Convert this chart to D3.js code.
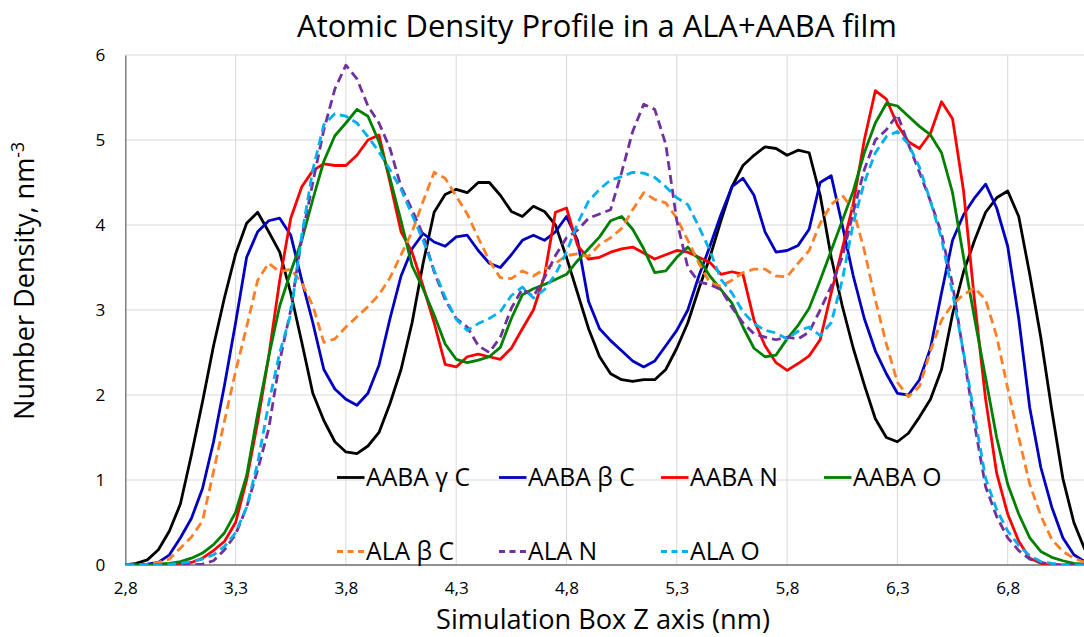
<!DOCTYPE html>
<html><head><meta charset="utf-8">
<script src="https://cdn.jsdelivr.net/npm/d3@7"></script>
<style>
html,body{margin:0;padding:0;background:#fff;}
text{font-family:"Open Sans","Noto Sans",sans-serif;fill:#000;}
</style></head>
<body>
<svg id="chart" width="1084" height="637"></svg>
<script>
const zValues = [2.80,2.85,2.90,2.95,3.00,3.05,3.10,3.15,3.20,3.25,
3.30,3.35,3.40,3.45,3.50,3.55,3.60,3.65,3.70,3.75,
3.80,3.85,3.90,3.95,4.00,4.05,4.10,4.15,4.20,4.25,
4.30,4.35,4.40,4.45,4.50,4.55,4.60,4.65,4.70,4.75,
4.80,4.85,4.90,4.95,5.00,5.05,5.10,5.15,5.20,5.25,
5.30,5.35,5.40,5.45,5.50,5.55,5.60,5.65,5.70,5.75,
5.80,5.85,5.90,5.95,6.00,6.05,6.10,6.15,6.20,6.25,
6.30,6.35,6.40,6.45,6.50,6.55,6.60,6.65,6.70,6.75,
6.80,6.85,6.90,6.95,7.00,7.05,7.10,7.15];

const aabaGammaC = [0.00,0.02,0.06,0.18,0.40,0.72,1.30,1.92,2.58,3.15,
3.66,4.02,4.15,3.92,3.68,3.20,2.62,2.02,1.70,1.45,
1.33,1.31,1.40,1.56,1.90,2.30,2.85,3.55,4.15,4.36,
4.42,4.38,4.50,4.50,4.35,4.16,4.10,4.22,4.16,4.00,
3.62,3.20,2.78,2.45,2.25,2.18,2.16,2.18,2.18,2.30,
2.55,2.85,3.25,3.62,4.05,4.45,4.70,4.82,4.92,4.90,
4.82,4.88,4.85,4.35,3.62,3.05,2.55,2.12,1.72,1.50,
1.45,1.55,1.74,1.95,2.30,2.95,3.45,3.82,4.15,4.32,
4.40,4.10,3.42,2.68,1.82,1.02,0.50,0.18];

const aabaBetaC = [0,0,0.01,0.03,0.12,0.32,0.55,0.90,1.45,2.12,
2.85,3.62,3.92,4.05,4.08,3.88,3.35,2.85,2.30,2.07,
1.95,1.88,2.02,2.35,2.90,3.40,3.72,3.90,3.80,3.75,
3.86,3.88,3.70,3.55,3.50,3.65,3.82,3.88,3.82,3.92,
4.10,3.82,3.10,2.78,2.64,2.52,2.40,2.33,2.40,2.58,
2.76,3.00,3.40,3.75,4.12,4.45,4.55,4.35,3.92,3.68,
3.70,3.76,3.95,4.50,4.58,4.00,3.40,2.90,2.52,2.25,
2.02,2.00,2.18,2.55,3.20,3.82,4.12,4.32,4.48,4.20,
3.75,2.90,1.85,1.15,0.68,0.32,0.12,0.04];

const aabaN = [0,0,0,0.01,0.01,0.02,0.03,0.08,0.17,0.28,
0.50,1.00,1.68,2.45,3.35,4.08,4.45,4.64,4.72,4.70,
4.70,4.82,5.00,5.06,4.50,3.92,3.68,3.28,2.85,2.36,
2.33,2.45,2.48,2.45,2.42,2.55,2.78,3.00,3.40,4.15,
4.20,3.76,3.60,3.62,3.68,3.72,3.74,3.67,3.60,3.65,
3.70,3.68,3.62,3.56,3.42,3.45,3.42,2.88,2.58,2.38,
2.29,2.37,2.46,2.65,3.20,3.72,4.25,5.00,5.58,5.48,
5.18,4.98,4.90,5.08,5.45,5.25,4.40,3.10,1.95,1.08,
0.60,0.28,0.08,0.02,0,0,0,0];

const aabaO = [0,0,0,0.01,0.02,0.04,0.08,0.14,0.24,0.38,
0.62,1.05,1.78,2.45,3.05,3.45,3.82,4.30,4.75,5.05,
5.20,5.36,5.28,4.98,4.55,4.05,3.52,3.25,2.94,2.60,
2.42,2.38,2.41,2.45,2.56,2.90,3.18,3.25,3.30,3.36,
3.42,3.58,3.72,3.86,4.05,4.10,3.95,3.72,3.44,3.46,
3.62,3.74,3.60,3.40,3.24,3.08,2.80,2.55,2.45,2.47,
2.66,2.82,3.02,3.35,3.70,4.05,4.40,4.85,5.20,5.43,
5.40,5.28,5.16,5.06,4.85,4.38,3.62,2.90,2.20,1.50,
0.95,0.60,0.32,0.16,0.09,0.05,0.02,0.01];

const alaBetaC = [0,0,0.01,0.03,0.07,0.20,0.33,0.52,1.10,1.70,
2.28,2.80,3.35,3.55,3.45,3.48,3.32,3.05,2.62,2.66,
2.80,2.92,3.04,3.18,3.38,3.65,3.92,4.28,4.62,4.55,
4.34,4.13,3.85,3.58,3.38,3.37,3.46,3.40,3.48,3.55,
3.64,3.66,3.63,3.77,3.85,3.96,4.18,4.38,4.30,4.26,
4.08,3.82,3.55,3.32,3.28,3.35,3.44,3.48,3.48,3.40,
3.39,3.55,3.70,4.02,4.24,4.35,4.18,3.70,3.12,2.60,
2.15,1.98,2.10,2.52,2.88,3.07,3.18,3.26,3.12,2.69,
2.08,1.50,0.95,0.58,0.30,0.16,0.08,0.03];

const alaN = [0,0,0,0,0,0,0,0.01,0.05,0.18,
0.36,0.68,1.12,1.60,2.40,3.00,3.85,4.50,5.12,5.60,
5.88,5.72,5.40,5.20,4.90,4.45,4.18,3.88,3.45,3.12,
2.90,2.80,2.58,2.50,2.68,3.02,3.25,3.16,3.38,3.64,
3.85,3.94,4.08,4.13,4.18,4.62,5.10,5.42,5.36,4.95,
4.05,3.50,3.33,3.30,3.24,3.03,2.85,2.72,2.68,2.65,
2.68,2.66,2.74,3.00,3.28,3.62,4.15,4.65,5.00,5.12,
5.30,4.95,4.62,4.28,3.90,3.30,2.48,1.65,0.92,0.57,
0.32,0.17,0.07,0.03,0.01,0,0,0];

const alaO = [0,0,0,0,0.01,0.02,0.04,0.07,0.12,0.22,
0.38,0.68,1.20,1.90,2.50,2.95,3.88,4.65,5.18,5.31,
5.28,5.20,5.04,4.86,4.65,4.42,4.12,3.82,3.47,3.15,
2.89,2.76,2.84,2.90,2.98,3.17,3.27,3.14,3.24,3.42,
3.68,4.02,4.28,4.42,4.53,4.57,4.62,4.61,4.56,4.45,
4.32,4.24,3.98,3.70,3.36,3.20,2.98,2.84,2.76,2.73,
2.66,2.75,2.80,2.70,2.85,3.35,4.02,4.50,4.85,5.04,
5.10,4.95,4.68,4.28,3.84,3.20,2.50,1.75,1.02,0.65,
0.40,0.23,0.11,0.04,0.02,0,0,0];

const seriesNames = ["AABA γ C","AABA β C","AABA N","AABA O","ALA β C","ALA N","ALA O"];
const seriesValues = [aabaGammaC, aabaBetaC, aabaN, aabaO, alaBetaC, alaN, alaO];
const seriesColors = ["#000000","#0000C0","#FF0000","#008000","#FF7F27","#7030A0","#00B0F0"];
const seriesDashed = [false,false,false,false,true,true,true];

const xTicks = [2.8,3.3,3.8,4.3,4.8,5.3,5.8,6.3,6.8];
const yTicks = [0,1,2,3,4,5,6];

(function(){
const W = 1084, H = 637;
const pL = 125.3, pR = 1084.9, pT = 55, pB = 565;

const svg = d3.select("#chart");
svg.append("rect").attr("width",W).attr("height",H).attr("fill","#fff");

// size a text so that its width matches the target width (font substitution for Calibri)
function fit(sel, target){
  sel.attr("font-size", 20);
  const w = sel.node().getComputedTextLength();
  const s = 20 * target / w;
  sel.attr("font-size", s.toFixed(2));
  return s;
}

const x = d3.scaleLinear().domain([2.8, 7.15]).range([pL, pR]);
const y = d3.scaleLinear().domain([0, 6]).range([pB, pT]);

// gridlines
const grid = svg.append("g");
grid.selectAll("line.h").data(yTicks.filter(d=>d>0)).join("line")
  .attr("x1",pL).attr("x2",W).attr("y1",d=>y(d)).attr("y2",d=>y(d))
  .attr("stroke","#d9d9d9").attr("stroke-width",1);
grid.selectAll("line.v").data(xTicks.filter(d=>d>2.8)).join("line")
  .attr("y1",pT).attr("y2",pB).attr("x1",d=>x(d)).attr("x2",d=>x(d))
  .attr("stroke","#d9d9d9").attr("stroke-width",1);

// axes
const fmt = d => d.toFixed(1).replace(".", ",");
const xAxis = d3.axisBottom(x).tickValues(xTicks).tickFormat(fmt).tickSize(0).tickPadding(17);
const gx = svg.append("g").attr("transform",`translate(0,${pB})`).call(xAxis);
gx.select(".domain").attr("stroke","#6b6b6b").attr("stroke-width",1.3).attr("d",`M${pL},0H${W}`);
gx.selectAll("text").attr("font-family",'"Open Sans",sans-serif').attr("fill","#000");
const tickSize = fit(gx.select("text"), 24);
gx.selectAll("text").attr("font-size", tickSize.toFixed(2));

const yAxis = d3.axisLeft(y).tickValues(yTicks).tickFormat(d3.format("d")).tickSize(0).tickPadding(20);
const gy = svg.append("g").attr("transform",`translate(${pL},0)`).call(yAxis);
gy.select(".domain").attr("stroke","#6b6b6b").attr("stroke-width",1.3);
gy.selectAll("text").attr("font-size", tickSize.toFixed(2)).attr("font-family",'"Open Sans",sans-serif').attr("fill","#000");

// lines
svg.append("clipPath").attr("id","plotclip").append("rect")
  .attr("x",pL).attr("y",pT-10).attr("width",W-pL).attr("height",pB-pT+10);
const lineGen = d3.line().x((d,i)=>x(zValues[i])).y(d=>y(d));
const lines = svg.append("g").attr("clip-path","url(#plotclip)");
seriesValues.forEach((vals,k)=>{
  lines.append("path").datum(vals)
    .attr("d",lineGen)
    .attr("fill","none")
    .attr("stroke",seriesColors[k])
    .attr("stroke-width",2.8)
    .attr("stroke-linejoin","round")
    .attr("stroke-dasharray",seriesDashed[k] ? "9,5" : null);
});

// title
const title = svg.append("text").attr("x",597).attr("y",37).attr("text-anchor","middle")
  .text("Atomic Density Profile in a ALA+AABA film");
fit(title, 600);

// x axis title
const xt = svg.append("text").attr("x",603).attr("y",629).attr("text-anchor","middle")
  .text("Simulation Box Z axis (nm)");
fit(xt, 334);

// y axis title
const yt = svg.append("text").attr("transform","translate(34,281) rotate(-90)")
  .attr("text-anchor","middle");
const yt1 = yt.append("tspan").text("Number Density, nm");
const yt2 = yt.append("tspan").attr("dy",-9).text("-3");
yt.attr("font-size",20); yt2.attr("font-size",13);
const wy = yt.node().getComputedTextLength();
const sy = 20 * 278 / wy;
yt.attr("font-size", sy.toFixed(2)); yt2.attr("font-size",(sy*0.65).toFixed(2)).attr("dy",(-sy*0.38).toFixed(1));

// legend (drawn over the lines, no background)
const legendPos = [[337,477.5],[499,477.5],[661,477.5],[824,477.5],[337,551.5],[499,551.5],[661,551.5]];
const lg = svg.append("g");
const legTexts = [];
seriesNames.forEach((name,k)=>{
  const [lx,ly] = legendPos[k];
  lg.append("line").attr("x1",lx).attr("x2",lx+27.5).attr("y1",ly).attr("y2",ly)
    .attr("stroke",seriesColors[k]).attr("stroke-width",2.8)
    .attr("stroke-dasharray",seriesDashed[k] ? "6,4.5" : null);
  legTexts.push(lg.append("text").attr("x",lx+29).attr("y",ly+8.5).text(name));
});
const legSize = fit(legTexts[0], 104);
legTexts.forEach(t=>t.attr("font-size", legSize.toFixed(2)));
})();
</script>
</body></html>
